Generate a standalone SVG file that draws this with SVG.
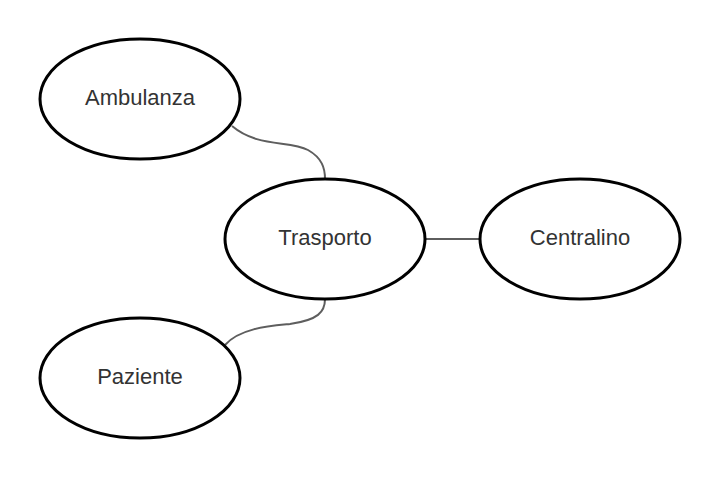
<svg xmlns="http://www.w3.org/2000/svg" width="720" height="480" viewBox="0 0 720 480">
<style>
.n ellipse{fill:#fff;stroke:#000;stroke-width:3}
.n text{font-family:"Liberation Sans",Arial,sans-serif;font-size:22px;fill:#333;text-anchor:middle}
.c path{fill:none;stroke:#5e5e5e;stroke-width:2}
</style>
<rect width="720" height="480" fill="#fff"/>
<g class="c" id="connectors">
<path d="M232,126 C258,148 290,140 308,150 C322,158 325,168 325,179"/>
<path d="M225,345 C240,328 270,326 290,324 C318,320 325,312 325,299"/>
<path d="M425,239 L480,239"/>
</g>
<g class="n" id="ambulanza"><ellipse cx="140" cy="99" rx="100" ry="60"/><text x="140" y="105">Ambulanza</text></g>
<g class="n" id="trasporto"><ellipse cx="325" cy="239" rx="100" ry="60"/><text x="325" y="245">Trasporto</text></g>
<g class="n" id="centralino"><ellipse cx="580" cy="239" rx="100" ry="60"/><text x="580" y="245">Centralino</text></g>
<g class="n" id="paziente"><ellipse cx="140" cy="378" rx="100" ry="60"/><text x="140" y="384">Paziente</text></g>
</svg>
